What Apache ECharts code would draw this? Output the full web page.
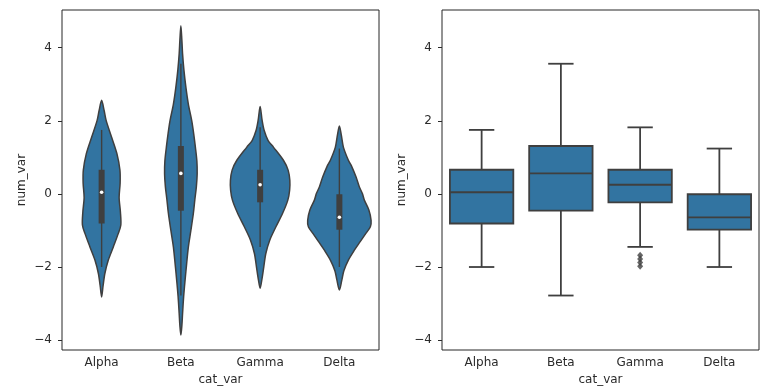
<!DOCTYPE html>
<html><head><meta charset="utf-8">
<script src="https://cdn.jsdelivr.net/npm/echarts@6/dist/echarts.min.js"></script>
<style>html,body{margin:0;padding:0;background:#fff}#c{width:769px;height:392px}</style>
</head><body><div id="c"></div>
<script>
const categories = ['Alpha', 'Beta', 'Gamma', 'Delta'];
const yTicks = [-4, -2, 0, 2, 4];

// [lower whisker, Q1, median, Q3, upper whisker]
const alphaBox = [-2.0, -0.81, 0.045, 0.66, 1.75];
const betaBox = [-2.78, -0.46, 0.56, 1.31, 3.56];
const gammaBox = [-1.45, -0.23, 0.25, 0.66, 1.82];
const deltaBox = [-2.0, -0.98, -0.64, -0.01, 1.24];
const gammaOutliers = [-1.68, -1.78, -1.88, -1.98];

// violin outlines: value levels (top -> bottom) and density (relative half-widths)
const alphaKdeY = [2.56, 2.28, 2.01, 1.55, 1.1, 0.65, 0.3, -0.1, -0.5, -0.85, -1.08, -1.45, -1.81, -2.17, -2.5, -2.82];
const alphaKdeD = [0, 2.5, 4.5, 10, 15.3, 18.3, 18.5, 17.5, 18.8, 19.2, 16.7, 11.7, 6.7, 3.3, 1.5, 0];
const betaKdeY = [4.6, 4.2, 3.83, 3.4, 2.92, 2.45, 2.01, 1.65, 1.28, 0.9, 0.55, 0.2, -0.15, -0.53, -1.0, -1.45, -1.9, -2.36, -2.8, -3.27, -3.6, -3.86];
const betaKdeD = [0, 1, 1.7, 3, 5, 7.5, 10.8, 12.8, 14.5, 16, 16.3, 15.5, 14, 12.5, 10, 7.5, 5.8, 4.2, 2.8, 1.7, 1, 0];
const gammaKdeY = [2.39, 2.01, 1.74, 1.46, 1.28, 0.92, 0.65, 0.37, 0.1, -0.17, -0.53, -0.9, -1.26, -1.63, -1.99, -2.35, -2.58];
const gammaKdeD = [0, 2, 4, 8, 13.3, 23.3, 28, 29.7, 29.5, 27.7, 22.5, 15.8, 9.7, 5.7, 3.7, 1.7, 0];
const deltaKdeY = [1.86, 1.6, 1.28, 0.92, 0.74, 0.46, 0.19, 0.01, -0.17, -0.44, -0.72, -0.9, -1.08, -1.3, -1.54, -1.81, -2.1, -2.35, -2.63];
const deltaKdeD = [0, 2, 4, 9, 12.5, 16.7, 20, 23, 25, 29.5, 31.7, 31, 26.5, 21, 15, 9, 4.5, 2.5, 0];

const boxes = [alphaBox, betaBox, gammaBox, deltaBox];
const kdeY = [alphaKdeY, betaKdeY, gammaKdeY, deltaKdeY];
const kdeD = [alphaKdeD, betaKdeD, gammaKdeD, deltaKdeD];
const maxD = Math.max(...kdeD.map(a => Math.max(...a)));

const FILL = '#3274a1', EDGE = '#3f3f3f', TXT = '#2b2b2b';
const FONT = 'DejaVu Sans';

function renderViolin(params, api) {
  const i = api.value(0);
  const ys = kdeY[i], ds = kdeD[i], s = boxes[i];
  const cx = api.coord([i, 0])[0];
  const band = api.size([1, 0])[0];
  const sc = 0.4 * band / maxD;
  const pts = [];
  for (let k = 0; k < ys.length; k++) pts.push([cx + ds[k] * sc, api.coord([i, ys[k]])[1]]);
  for (let k = ys.length - 2; k >= 1; k--) pts.push([cx - ds[k] * sc, api.coord([i, ys[k]])[1]]);
  const p = s.map(v => api.coord([i, v])[1]);
  return {
    type: 'group',
    children: [
      { type: 'polygon', shape: { points: pts, smooth: 0.3 }, style: { fill: FILL, stroke: EDGE, lineWidth: 1.5 } },
      { type: 'line', shape: { x1: cx, y1: p[0], x2: cx, y2: p[4] }, style: { stroke: EDGE, lineWidth: 1.4 } },
      { type: 'rect', shape: { x: cx - 3, y: p[3], width: 6, height: p[1] - p[3] }, style: { fill: EDGE } },
      { type: 'circle', shape: { cx: cx, cy: p[2], r: 1.8 }, style: { fill: '#fff' } }
    ]
  };
}

function renderBox(params, api) {
  const i = api.value(0);
  const s = boxes[i];
  const cx = api.coord([i, 0])[0];
  const band = api.size([1, 0])[0];
  const hw = band * 0.4, cw = band * 0.16;
  const p = s.map(v => api.coord([i, v])[1]);
  const ls = { stroke: EDGE, lineWidth: 1.8 };
  return {
    type: 'group',
    children: [
      { type: 'line', shape: { x1: cx, y1: p[0], x2: cx, y2: p[1] }, style: ls },
      { type: 'line', shape: { x1: cx, y1: p[3], x2: cx, y2: p[4] }, style: ls },
      { type: 'line', shape: { x1: cx - cw, y1: p[0], x2: cx + cw, y2: p[0] }, style: ls },
      { type: 'line', shape: { x1: cx - cw, y1: p[4], x2: cx + cw, y2: p[4] }, style: ls },
      { type: 'rect', shape: { x: cx - hw, y: p[3], width: 2 * hw, height: p[1] - p[3] }, style: { fill: FILL, stroke: EDGE, lineWidth: 1.8 } },
      { type: 'line', shape: { x1: cx - hw, y1: p[2], x2: cx + hw, y2: p[2] }, style: ls }
    ]
  };
}

function xAx(g) {
  return {
    type: 'category', gridIndex: g, data: categories,
    axisLine: { show: false },
    axisTick: { show: true, alignWithLabel: true, length: 4, lineStyle: { color: TXT, width: 1 } },
    axisLabel: { fontSize: 12, color: TXT, margin: 7, fontFamily: FONT },
    splitLine: { show: false },
    name: 'cat_var', nameLocation: 'middle', nameGap: 22,
    nameTextStyle: { fontSize: 12, color: TXT, fontFamily: FONT }
  };
}
function yAx(g) {
  return {
    type: 'value', gridIndex: g, min: -4.27, max: 5.03,
    axisLine: { show: false },
    axisTick: { show: true, length: 4, customValues: yTicks, lineStyle: { color: TXT, width: 1 } },
    axisLabel: { fontSize: 12, color: TXT, margin: 10, fontFamily: FONT, customValues: yTicks,
      formatter: v => (v < 0 ? '\u2212' + Math.abs(v) : String(v)) },
    splitLine: { show: false },
    name: 'num_var', nameLocation: 'middle', nameGap: 34, nameRotate: 90,
    nameTextStyle: { fontSize: 12, color: TXT, fontFamily: FONT }
  };
}

const chart = echarts.init(document.getElementById('c'), null, { renderer: 'canvas' });
chart.setOption({
  animation: false,
  backgroundColor: '#fff',
  grid: [
    { left: 62, top: 10, width: 317, height: 340, show: true, borderColor: '#262626', borderWidth: 1, containLabel: false },
    { left: 442, top: 10, width: 317, height: 340, show: true, borderColor: '#262626', borderWidth: 1, containLabel: false }
  ],
  xAxis: [xAx(0), xAx(1)],
  yAxis: [yAx(0), yAx(1)],
  series: [
    { type: 'custom', xAxisIndex: 0, yAxisIndex: 0, renderItem: renderViolin,
      data: categories.map((c, i) => [i, Math.min(...kdeY[i]), Math.max(...kdeY[i])]),
      encode: { x: 0, y: [1, 2] } },
    { type: 'custom', xAxisIndex: 1, yAxisIndex: 1, renderItem: renderBox,
      data: categories.map((c, i) => [i, boxes[i][0], boxes[i][4]]),
      encode: { x: 0, y: [1, 2] } },
    { type: 'scatter', xAxisIndex: 1, yAxisIndex: 1, symbol: 'diamond', symbolSize: [6, 7],
      itemStyle: { color: EDGE }, data: gammaOutliers.map(v => [2, v]) }
  ]
});
</script>
</body></html>
